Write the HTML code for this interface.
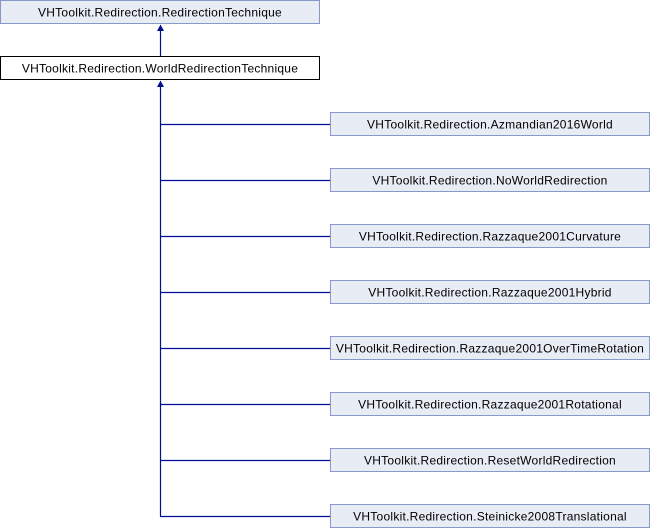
<!DOCTYPE html>
<html><head><style>html,body{margin:0;padding:0;background:#fff}</style></head>
<body>
<svg width="650" height="528" xmlns="http://www.w3.org/2000/svg" style="display:block">
<g font-family="Liberation Sans, Arial, sans-serif" font-size="12" fill="#000" text-anchor="middle" letter-spacing="0.25">
<rect x="0.5" y="0.5" width="319" height="23" fill="#e8ecf5" stroke="#8799c9"/>
<text x="160" y="16.5">VHToolkit.Redirection.RedirectionTechnique</text>
<rect x="0.5" y="56.5" width="319" height="23" fill="#fff" stroke="#000"/>
<text x="160" y="72.5">VHToolkit.Redirection.WorldRedirectionTechnique</text>
<g stroke="#000f8f" stroke-width="1.2" fill="none">
<line x1="160.5" y1="30" x2="160.5" y2="56"/>
<line x1="160.5" y1="86" x2="160.5" y2="516.5"/>
<line x1="160" y1="124.5" x2="330" y2="124.5"/>
<line x1="160" y1="180.5" x2="330" y2="180.5"/>
<line x1="160" y1="236.5" x2="330" y2="236.5"/>
<line x1="160" y1="292.5" x2="330" y2="292.5"/>
<line x1="160" y1="348.5" x2="330" y2="348.5"/>
<line x1="160" y1="404.5" x2="330" y2="404.5"/>
<line x1="160" y1="460.5" x2="330" y2="460.5"/>
<line x1="160" y1="516.5" x2="330" y2="516.5"/>
</g>
<polygon points="160.5,24.5 157,31 164,31" fill="#000f8f"/>
<polygon points="160.5,80.5 157,87 164,87" fill="#000f8f"/>
<g>
<rect x="330.5" y="112.5" width="319" height="23" fill="#e8ecf5" stroke="#8799c9"/>
<text x="490" y="128.5">VHToolkit.Redirection.Azmandian2016World</text>
<rect x="330.5" y="168.5" width="319" height="23" fill="#e8ecf5" stroke="#8799c9"/>
<text x="490" y="184.5">VHToolkit.Redirection.NoWorldRedirection</text>
<rect x="330.5" y="224.5" width="319" height="23" fill="#e8ecf5" stroke="#8799c9"/>
<text x="490" y="240.5">VHToolkit.Redirection.Razzaque2001Curvature</text>
<rect x="330.5" y="280.5" width="319" height="23" fill="#e8ecf5" stroke="#8799c9"/>
<text x="490" y="296.5">VHToolkit.Redirection.Razzaque2001Hybrid</text>
<rect x="330.5" y="336.5" width="319" height="23" fill="#e8ecf5" stroke="#8799c9"/>
<text x="490" y="352.5">VHToolkit.Redirection.Razzaque2001OverTimeRotation</text>
<rect x="330.5" y="392.5" width="319" height="23" fill="#e8ecf5" stroke="#8799c9"/>
<text x="490" y="408.5">VHToolkit.Redirection.Razzaque2001Rotational</text>
<rect x="330.5" y="448.5" width="319" height="23" fill="#e8ecf5" stroke="#8799c9"/>
<text x="490" y="464.5">VHToolkit.Redirection.ResetWorldRedirection</text>
<rect x="330.5" y="504.5" width="319" height="23" fill="#e8ecf5" stroke="#8799c9"/>
<text x="490" y="520.5">VHToolkit.Redirection.Steinicke2008Translational</text>
</g>
</g>
</svg>
</body></html>
